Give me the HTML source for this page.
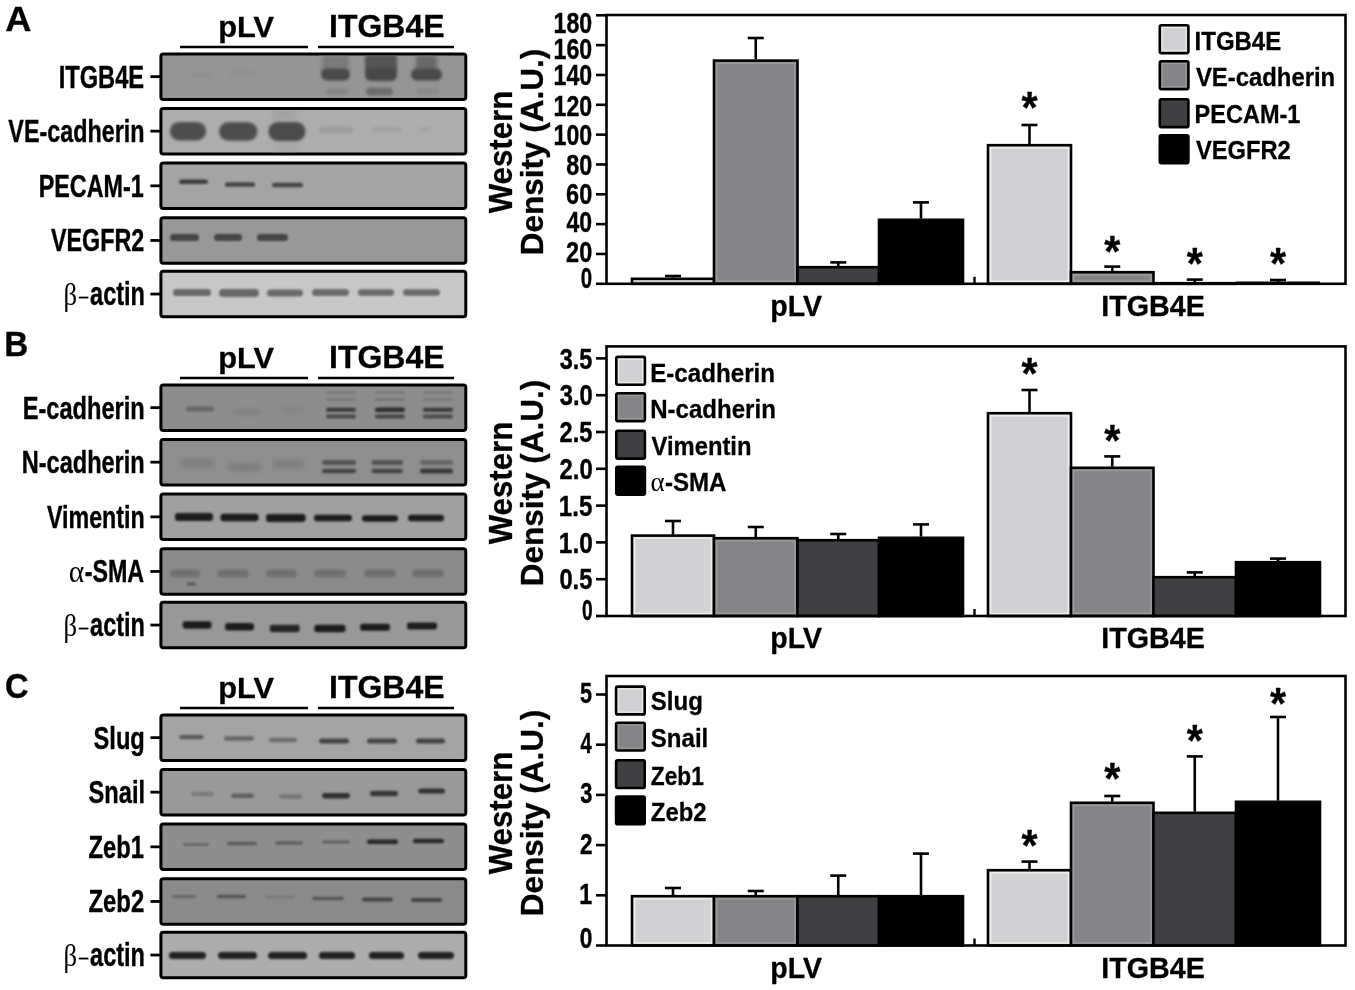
<!DOCTYPE html>
<html><head><meta charset="utf-8"><title>Western blot figure</title>
<style>html,body{margin:0;padding:0;background:#fff;} svg{display:block;}</style></head>
<body><svg width="1355" height="990" viewBox="0 0 1355 990">
<rect width="1355" height="990" fill="#fff"/>
<defs>
<filter id="b9" x="-30%" y="-200%" width="160%" height="500%"><feGaussianBlur stdDeviation="0.9"/></filter>
<filter id="b10" x="-30%" y="-200%" width="160%" height="500%"><feGaussianBlur stdDeviation="1.0"/></filter>
<filter id="b11" x="-30%" y="-200%" width="160%" height="500%"><feGaussianBlur stdDeviation="1.1"/></filter>
<filter id="b12" x="-30%" y="-200%" width="160%" height="500%"><feGaussianBlur stdDeviation="1.2"/></filter>
<filter id="b13" x="-30%" y="-200%" width="160%" height="500%"><feGaussianBlur stdDeviation="1.3"/></filter>
<filter id="b15" x="-30%" y="-200%" width="160%" height="500%"><feGaussianBlur stdDeviation="1.5"/></filter>
<filter id="b16" x="-30%" y="-200%" width="160%" height="500%"><feGaussianBlur stdDeviation="1.6"/></filter>
<filter id="b18" x="-30%" y="-200%" width="160%" height="500%"><feGaussianBlur stdDeviation="1.8"/></filter>
<filter id="b20" x="-30%" y="-200%" width="160%" height="500%"><feGaussianBlur stdDeviation="2.0"/></filter>
<filter id="b25" x="-30%" y="-200%" width="160%" height="500%"><feGaussianBlur stdDeviation="2.5"/></filter>
<filter id="b30" x="-30%" y="-200%" width="160%" height="500%"><feGaussianBlur stdDeviation="3.0"/></filter>
<clipPath id="clip00"><rect x="162.4" y="55.40" width="301.90" height="42.5"/></clipPath>
<clipPath id="clip01"><rect x="162.4" y="109.90" width="301.90" height="42.5"/></clipPath>
<clipPath id="clip02"><rect x="162.4" y="164.60" width="301.90" height="42.5"/></clipPath>
<clipPath id="clip03"><rect x="162.4" y="219.20" width="301.90" height="42.5"/></clipPath>
<clipPath id="clip04"><rect x="162.4" y="272.80" width="301.90" height="42.5"/></clipPath>
<clipPath id="clip10"><rect x="162.4" y="386.40" width="301.90" height="42.5"/></clipPath>
<clipPath id="clip11"><rect x="162.4" y="440.90" width="301.90" height="42.5"/></clipPath>
<clipPath id="clip12"><rect x="162.4" y="495.60" width="301.90" height="42.5"/></clipPath>
<clipPath id="clip13"><rect x="162.4" y="550.20" width="301.90" height="42.5"/></clipPath>
<clipPath id="clip14"><rect x="162.4" y="603.80" width="301.90" height="42.5"/></clipPath>
<clipPath id="clip20"><rect x="162.4" y="716.40" width="301.90" height="42.5"/></clipPath>
<clipPath id="clip21"><rect x="162.4" y="770.90" width="301.90" height="42.5"/></clipPath>
<clipPath id="clip22"><rect x="162.4" y="825.60" width="301.90" height="42.5"/></clipPath>
<clipPath id="clip23"><rect x="162.4" y="880.20" width="301.90" height="42.5"/></clipPath>
<clipPath id="clip24"><rect x="162.4" y="933.80" width="301.90" height="42.5"/></clipPath>
</defs>
<text transform="translate(5.24,30.80) scale(1.0537,1)" font-size="34.42" font-weight="bold" font-family="'Liberation Sans', Arial, sans-serif" stroke="#000" stroke-width="0.3" stroke-linejoin="round">A</text>
<text transform="translate(218.15,36.60) scale(1.0383,1)" font-size="29.64" font-weight="bold" font-family="'Liberation Sans', Arial, sans-serif" stroke="#000" stroke-width="0.3" stroke-linejoin="round">pLV</text>
<text transform="translate(329.07,37.00) scale(1.0250,1)" font-size="31.21" font-weight="bold" font-family="'Liberation Sans', Arial, sans-serif" stroke="#000" stroke-width="0.3" stroke-linejoin="round">ITGB4E</text>
<line x1="180" y1="47" x2="308" y2="47" stroke="#000" stroke-width="2.6"/>
<line x1="318" y1="47" x2="454" y2="47" stroke="#000" stroke-width="2.6"/>
<rect x="160.9" y="53.90" width="304.90" height="45.5" rx="2.5" fill="#959595" stroke="#000" stroke-width="3.0"/>
<g clip-path="url(#clip00)">
<rect x="191" y="72.5" width="24" height="5" rx="2.5" fill="#8a8a8a" opacity="0.6" filter="url(#b20)"/>
<rect x="229" y="70.5" width="26" height="5" rx="2.5" fill="#8a8a8a" opacity="0.6" filter="url(#b20)"/>
<rect x="322" y="55.0" width="27" height="18" rx="3" fill="#7a7a7a" opacity="1" filter="url(#b20)"/>
<rect x="321" y="68.5" width="29" height="12" rx="6.0" fill="#4a4a4a" opacity="1" filter="url(#b15)"/>
<rect x="365" y="55.0" width="32" height="18" rx="3" fill="#555555" opacity="1" filter="url(#b18)"/>
<rect x="365" y="68.0" width="32" height="13" rx="6" fill="#474747" opacity="1" filter="url(#b15)"/>
<rect x="416" y="55.0" width="21" height="18" rx="3" fill="#686868" opacity="1" filter="url(#b20)"/>
<rect x="411" y="68.5" width="31" height="12" rx="6.0" fill="#4a4a4a" opacity="1" filter="url(#b15)"/>
<rect x="326" y="88.0" width="23" height="7" rx="3.5" fill="#858585" opacity="1" filter="url(#b18)"/>
<rect x="366" y="87.75" width="27" height="7.5" rx="3.75" fill="#6a6a6a" opacity="1" filter="url(#b16)"/>
<rect x="416" y="88.0" width="23" height="7" rx="3.5" fill="#8a8a8a" opacity="1" filter="url(#b18)"/>
</g>
<line x1="150.4" y1="76.65" x2="160" y2="76.65" stroke="#000" stroke-width="2.8"/>
<text transform="translate(58.66,87.65) scale(0.7494,1)" font-size="31.59" font-weight="bold" font-family="'Liberation Sans', Arial, sans-serif" stroke="#000" stroke-width="0.4" stroke-linejoin="round">ITGB4E</text>
<rect x="160.9" y="108.40" width="304.90" height="45.5" rx="2.5" fill="#adadad" stroke="#000" stroke-width="3.0"/>
<g clip-path="url(#clip01)">
<rect x="273" y="108.0" width="24" height="12" rx="4" fill="#a2a2a2" opacity="1" filter="url(#b30)"/>
<rect x="273" y="143.0" width="24" height="8" rx="4" fill="#a6a6a6" opacity="1" filter="url(#b30)"/>
<rect x="170" y="121.94999999999999" width="36" height="18.5" rx="9" fill="#4e4e4e" opacity="1" filter="url(#b16)"/>
<rect x="219" y="122.25" width="38.39999999999998" height="18.5" rx="9" fill="#4e4e4e" opacity="1" filter="url(#b16)"/>
<rect x="268.5" y="122.0" width="37.0" height="19" rx="9" fill="#4c4c4c" opacity="1" filter="url(#b16)"/>
<rect x="319" y="126.5" width="34.5" height="6" rx="3.0" fill="#9c9c9c" opacity="1" filter="url(#b18)"/>
<rect x="371.5" y="127.0" width="30.0" height="5" rx="2.5" fill="#a0a0a0" opacity="1" filter="url(#b18)"/>
<rect x="419" y="127.0" width="12" height="5" rx="2.5" fill="#a3a3a3" opacity="1" filter="url(#b18)"/>
</g>
<line x1="150.4" y1="131.15" x2="160" y2="131.15" stroke="#000" stroke-width="2.8"/>
<text transform="translate(8.37,142.15) scale(0.7395,1)" font-size="31.59" font-weight="bold" font-family="'Liberation Sans', Arial, sans-serif" stroke="#000" stroke-width="0.4" stroke-linejoin="round">VE-cadherin</text>
<rect x="160.9" y="163.10" width="304.90" height="45.5" rx="2.5" fill="#a4a4a4" stroke="#000" stroke-width="3.0"/>
<g clip-path="url(#clip02)">
<rect x="179" y="179.45" width="29" height="4.5" rx="2.25" fill="#3e3e3e" opacity="1" filter="url(#b10)"/>
<rect x="225" y="182.15" width="30" height="4.5" rx="2.25" fill="#444" opacity="1" filter="url(#b10)"/>
<rect x="272" y="182.75" width="31" height="4.5" rx="2.25" fill="#444" opacity="1" filter="url(#b10)"/>
</g>
<line x1="150.4" y1="185.85" x2="160" y2="185.85" stroke="#000" stroke-width="2.8"/>
<text transform="translate(38.68,196.85) scale(0.7400,1)" font-size="31.59" font-weight="bold" font-family="'Liberation Sans', Arial, sans-serif" stroke="#000" stroke-width="0.4" stroke-linejoin="round">PECAM-1</text>
<rect x="160.9" y="217.70" width="304.90" height="45.5" rx="2.5" fill="#989898" stroke="#000" stroke-width="3.0"/>
<g clip-path="url(#clip03)">
<rect x="170" y="234.0" width="29" height="7" rx="3.5" fill="#444" opacity="1.0" filter="url(#b10)"/>
<rect x="214" y="234.0" width="28" height="7" rx="3.5" fill="#444" opacity="1.0" filter="url(#b10)"/>
<rect x="257" y="234.0" width="31" height="7" rx="3.5" fill="#444" opacity="1.0" filter="url(#b10)"/>
</g>
<line x1="150.4" y1="240.45" x2="160" y2="240.45" stroke="#000" stroke-width="2.8"/>
<text transform="translate(50.97,251.45) scale(0.7380,1)" font-size="31.59" font-weight="bold" font-family="'Liberation Sans', Arial, sans-serif" stroke="#000" stroke-width="0.4" stroke-linejoin="round">VEGFR2</text>
<rect x="160.9" y="271.30" width="304.90" height="45.5" rx="2.5" fill="#c7c7c7" stroke="#000" stroke-width="3.0"/>
<g clip-path="url(#clip04)">
<rect x="173" y="289.0" width="38" height="7" rx="3.5" fill="#686868" opacity="1" filter="url(#b11)"/>
<rect x="219" y="289.0" width="40" height="8" rx="4" fill="#666666" opacity="1" filter="url(#b11)"/>
<rect x="267" y="289.5" width="36" height="7" rx="3.5" fill="#6a6a6a" opacity="1" filter="url(#b11)"/>
<rect x="312" y="289.0" width="37" height="7" rx="3.5" fill="#6a6a6a" opacity="1" filter="url(#b11)"/>
<rect x="358" y="289.25" width="36" height="6.5" rx="3.2" fill="#6a6a6a" opacity="1" filter="url(#b11)"/>
<rect x="403" y="289.25" width="37" height="6.5" rx="3.2" fill="#6a6a6a" opacity="1" filter="url(#b11)"/>
</g>
<line x1="150.4" y1="294.05" x2="160" y2="294.05" stroke="#000" stroke-width="2.8"/>
<text transform="translate(63.46,305.05) scale(0.8770,1)" font-size="30.50" font-weight="normal" font-family="'Liberation Serif', 'Times New Roman', serif">β</text>
<line x1="78.8" y1="297.55" x2="88.4" y2="297.55" stroke="#000" stroke-width="1.8"/>
<text transform="translate(90.09,305.05) scale(0.7066,1)" font-size="33.28" font-weight="bold" font-family="'Liberation Sans', Arial, sans-serif" stroke="#000" stroke-width="0.4" stroke-linejoin="round">actin</text>
<text transform="translate(511.80,213.35) rotate(-90) scale(0.9556,1)" font-size="32.68" font-weight="bold" font-family="'Liberation Sans', Arial, sans-serif" stroke="#000" stroke-width="0.3" stroke-linejoin="round">Western</text>
<text transform="translate(543.00,255.30) rotate(-90) scale(0.9951,1)" font-size="31.67" font-weight="bold" font-family="'Liberation Sans', Arial, sans-serif" stroke="#000" stroke-width="0.3" stroke-linejoin="round">Density (A.U.)</text>
<line x1="673.0" y1="276" x2="673.0" y2="277.6" stroke="#000" stroke-width="2.6"/>
<line x1="665.0" y1="276" x2="681.0" y2="276" stroke="#000" stroke-width="2.6"/>
<rect x="632" y="278.8" width="82" height="5.00" fill="#d1d1d3" stroke="#000" stroke-width="2.6"/>
<line x1="755.75" y1="38" x2="755.75" y2="59.4" stroke="#000" stroke-width="2.6"/>
<line x1="747.75" y1="38" x2="763.75" y2="38" stroke="#000" stroke-width="2.6"/>
<rect x="714" y="60.6" width="83.5" height="223.20" fill="#858588" stroke="#000" stroke-width="2.6"/>
<rect x="716.6" y="63.199999999999996" width="78.3" height="218.00" fill="none" stroke="#a2a2a4" stroke-width="1.6" opacity="0.75"/>
<line x1="838.25" y1="262.4" x2="838.25" y2="266" stroke="#000" stroke-width="2.6"/>
<line x1="830.25" y1="262.4" x2="846.25" y2="262.4" stroke="#000" stroke-width="2.6"/>
<rect x="797.5" y="267.2" width="81.5" height="16.60" fill="#404042" stroke="#000" stroke-width="2.6"/>
<line x1="921.0" y1="202.4" x2="921.0" y2="218.6" stroke="#000" stroke-width="2.6"/>
<line x1="913.0" y1="202.4" x2="929.0" y2="202.4" stroke="#000" stroke-width="2.6"/>
<rect x="879" y="219.79999999999998" width="84" height="64.00" fill="#000000" stroke="#000" stroke-width="2.6"/>
<line x1="1029.5" y1="125" x2="1029.5" y2="144" stroke="#000" stroke-width="2.6"/>
<line x1="1021.5" y1="125" x2="1037.5" y2="125" stroke="#000" stroke-width="2.6"/>
<rect x="988" y="145.2" width="83" height="138.60" fill="#d1d1d3" stroke="#000" stroke-width="2.6"/>
<rect x="990.6" y="147.8" width="77.8" height="133.40" fill="none" stroke="#f4f4f4" stroke-width="1.6" opacity="0.75"/>
<text transform="translate(1021.44,123.08) scale(0.9390,1)" font-size="44.00" font-weight="bold" font-family="'Liberation Sans', Arial, sans-serif" stroke="#000" stroke-width="0.3" stroke-linejoin="round">*</text>
<line x1="1112.25" y1="266.6" x2="1112.25" y2="271" stroke="#000" stroke-width="2.6"/>
<line x1="1104.25" y1="266.6" x2="1120.25" y2="266.6" stroke="#000" stroke-width="2.6"/>
<rect x="1071" y="272.2" width="82.5" height="11.60" fill="#858588" stroke="#000" stroke-width="2.6"/>
<rect x="1073.6" y="274.8" width="77.3" height="6.40" fill="none" stroke="#a2a2a4" stroke-width="1.6" opacity="0.75"/>
<text transform="translate(1104.19,267.08) scale(0.9390,1)" font-size="44.00" font-weight="bold" font-family="'Liberation Sans', Arial, sans-serif" stroke="#000" stroke-width="0.3" stroke-linejoin="round">*</text>
<line x1="1194.75" y1="279.6" x2="1194.75" y2="282" stroke="#000" stroke-width="2.6"/>
<line x1="1186.75" y1="279.6" x2="1202.75" y2="279.6" stroke="#000" stroke-width="2.6"/>
<rect x="1153.5" y="283.2" width="82.5" height="0.60" fill="#404042" stroke="#000" stroke-width="2.6"/>
<text transform="translate(1186.69,278.58) scale(0.9390,1)" font-size="44.00" font-weight="bold" font-family="'Liberation Sans', Arial, sans-serif" stroke="#000" stroke-width="0.3" stroke-linejoin="round">*</text>
<line x1="1278.0" y1="280" x2="1278.0" y2="282.5" stroke="#000" stroke-width="2.6"/>
<line x1="1270.0" y1="280" x2="1286.0" y2="280" stroke="#000" stroke-width="2.6"/>
<line x1="1236" y1="282.8" x2="1320" y2="282.8" stroke="#000" stroke-width="2.5"/>
<text transform="translate(1269.94,278.58) scale(0.9390,1)" font-size="44.00" font-weight="bold" font-family="'Liberation Sans', Arial, sans-serif" stroke="#000" stroke-width="0.3" stroke-linejoin="round">*</text>
<rect x="606.5" y="15" width="739.0" height="268.80" fill="none" stroke="#000" stroke-width="2.6"/>
<line x1="974.5" y1="276.8" x2="974.5" y2="283.8" stroke="#000" stroke-width="2.4"/>
<line x1="596" y1="283.80" x2="606.5" y2="283.80" stroke="#000" stroke-width="2.6"/>
<text transform="translate(580.68,287.65) scale(0.6775,1)" font-size="30.14" font-weight="bold" font-family="'Liberation Sans', Arial, sans-serif" stroke="#000" stroke-width="0.4" stroke-linejoin="round">0</text>
<line x1="596" y1="253.97" x2="606.5" y2="253.97" stroke="#000" stroke-width="2.6"/>
<text transform="translate(566.08,261.65) scale(0.7789,1)" font-size="30.14" font-weight="bold" font-family="'Liberation Sans', Arial, sans-serif" stroke="#000" stroke-width="0.4" stroke-linejoin="round">20</text>
<line x1="596" y1="224.13" x2="606.5" y2="224.13" stroke="#000" stroke-width="2.6"/>
<text transform="translate(566.55,232.25) scale(0.7641,1)" font-size="30.14" font-weight="bold" font-family="'Liberation Sans', Arial, sans-serif" stroke="#000" stroke-width="0.4" stroke-linejoin="round">40</text>
<line x1="596" y1="194.30" x2="606.5" y2="194.30" stroke="#000" stroke-width="2.6"/>
<text transform="translate(566.08,204.15) scale(0.7789,1)" font-size="30.14" font-weight="bold" font-family="'Liberation Sans', Arial, sans-serif" stroke="#000" stroke-width="0.4" stroke-linejoin="round">60</text>
<line x1="596" y1="164.46" x2="606.5" y2="164.46" stroke="#000" stroke-width="2.6"/>
<text transform="translate(566.20,175.15) scale(0.7752,1)" font-size="30.14" font-weight="bold" font-family="'Liberation Sans', Arial, sans-serif" stroke="#000" stroke-width="0.4" stroke-linejoin="round">80</text>
<line x1="596" y1="134.63" x2="606.5" y2="134.63" stroke="#000" stroke-width="2.6"/>
<text transform="translate(553.60,144.65) scale(0.7677,1)" font-size="30.14" font-weight="bold" font-family="'Liberation Sans', Arial, sans-serif" stroke="#000" stroke-width="0.4" stroke-linejoin="round">100</text>
<line x1="596" y1="104.80" x2="606.5" y2="104.80" stroke="#000" stroke-width="2.6"/>
<text transform="translate(553.60,115.65) scale(0.7677,1)" font-size="30.14" font-weight="bold" font-family="'Liberation Sans', Arial, sans-serif" stroke="#000" stroke-width="0.4" stroke-linejoin="round">120</text>
<line x1="596" y1="74.96" x2="606.5" y2="74.96" stroke="#000" stroke-width="2.6"/>
<text transform="translate(553.60,85.35) scale(0.7677,1)" font-size="30.14" font-weight="bold" font-family="'Liberation Sans', Arial, sans-serif" stroke="#000" stroke-width="0.4" stroke-linejoin="round">140</text>
<line x1="596" y1="45.13" x2="606.5" y2="45.13" stroke="#000" stroke-width="2.6"/>
<text transform="translate(553.60,58.75) scale(0.7677,1)" font-size="30.14" font-weight="bold" font-family="'Liberation Sans', Arial, sans-serif" stroke="#000" stroke-width="0.4" stroke-linejoin="round">160</text>
<line x1="596" y1="15.29" x2="606.5" y2="15.29" stroke="#000" stroke-width="2.6"/>
<text transform="translate(553.60,33.25) scale(0.7677,1)" font-size="30.14" font-weight="bold" font-family="'Liberation Sans', Arial, sans-serif" stroke="#000" stroke-width="0.4" stroke-linejoin="round">180</text>
<rect x="1159.8" y="25.3" width="28.6" height="27.8" rx="1.5" fill="#d1d1d3" stroke="#000" stroke-width="2.6"/>
<rect x="1162.1" y="27.6" width="24" height="23.2" fill="none" stroke="#f4f4f4" stroke-width="1.1" opacity="0.8"/>
<text transform="translate(1194.59,49.70) scale(0.9159,1)" font-size="26.16" font-weight="bold" font-family="'Liberation Sans', Arial, sans-serif" stroke="#000" stroke-width="0.3" stroke-linejoin="round">ITGB4E</text>
<rect x="1159.8" y="61.3" width="28.6" height="27.8" rx="1.5" fill="#858588" stroke="#000" stroke-width="2.6"/>
<rect x="1162.1" y="63.6" width="24" height="23.2" fill="none" stroke="#a2a2a4" stroke-width="1.1" opacity="0.8"/>
<text transform="translate(1195.91,86.00) scale(0.9131,1)" font-size="26.16" font-weight="bold" font-family="'Liberation Sans', Arial, sans-serif" stroke="#000" stroke-width="0.3" stroke-linejoin="round">VE-cadherin</text>
<rect x="1159.8" y="99.3" width="28.6" height="27.8" rx="1.5" fill="#404042" stroke="#000" stroke-width="2.6"/>
<text transform="translate(1194.62,123.00) scale(0.8989,1)" font-size="26.16" font-weight="bold" font-family="'Liberation Sans', Arial, sans-serif" stroke="#000" stroke-width="0.3" stroke-linejoin="round">PECAM-1</text>
<rect x="1159.8" y="135.3" width="28.6" height="27.8" rx="1.5" fill="#000000" stroke="#000" stroke-width="2.6"/>
<text transform="translate(1195.91,159.00) scale(0.9068,1)" font-size="26.16" font-weight="bold" font-family="'Liberation Sans', Arial, sans-serif" stroke="#000" stroke-width="0.3" stroke-linejoin="round">VEGFR2</text>
<text transform="translate(770.30,316.00) scale(0.9425,1)" font-size="30.22" font-weight="bold" font-family="'Liberation Sans', Arial, sans-serif" stroke="#000" stroke-width="0.3" stroke-linejoin="round">pLV</text>
<text transform="translate(1101.29,316.00) scale(0.9728,1)" font-size="29.49" font-weight="bold" font-family="'Liberation Sans', Arial, sans-serif" stroke="#000" stroke-width="0.3" stroke-linejoin="round">ITGB4E</text>
<text transform="translate(4.19,355.80) scale(0.9392,1)" font-size="35.43" font-weight="bold" font-family="'Liberation Sans', Arial, sans-serif" stroke="#000" stroke-width="0.3" stroke-linejoin="round">B</text>
<text transform="translate(218.15,367.60) scale(1.0383,1)" font-size="29.64" font-weight="bold" font-family="'Liberation Sans', Arial, sans-serif" stroke="#000" stroke-width="0.3" stroke-linejoin="round">pLV</text>
<text transform="translate(329.07,368.00) scale(1.0250,1)" font-size="31.21" font-weight="bold" font-family="'Liberation Sans', Arial, sans-serif" stroke="#000" stroke-width="0.3" stroke-linejoin="round">ITGB4E</text>
<line x1="180" y1="378" x2="308" y2="378" stroke="#000" stroke-width="2.6"/>
<line x1="318" y1="378" x2="454" y2="378" stroke="#000" stroke-width="2.6"/>
<rect x="160.9" y="384.90" width="304.90" height="45.5" rx="2.5" fill="#8d8d8d" stroke="#000" stroke-width="3.0"/>
<g clip-path="url(#clip10)">
<rect x="186" y="406.5" width="28" height="5" rx="2.5" fill="#666666" opacity="1" filter="url(#b13)"/>
<rect x="233" y="409.0" width="28" height="6" rx="3.0" fill="#7e7e7e" opacity="0.8" filter="url(#b20)"/>
<rect x="281" y="407.5" width="23" height="5" rx="2.5" fill="#808080" opacity="0.7" filter="url(#b20)"/>
<rect x="326" y="391.0" width="30" height="3" rx="1.5" fill="#7a7a7a" opacity="1" filter="url(#b12)"/>
<rect x="375" y="391.0" width="30" height="3" rx="1.5" fill="#7a7a7a" opacity="1" filter="url(#b12)"/>
<rect x="423" y="391.0" width="30" height="3" rx="1.5" fill="#7a7a7a" opacity="1" filter="url(#b12)"/>
<rect x="326" y="398.0" width="30" height="3" rx="1.5" fill="#7a7a7a" opacity="1" filter="url(#b12)"/>
<rect x="375" y="398.0" width="30" height="3" rx="1.5" fill="#777777" opacity="1" filter="url(#b12)"/>
<rect x="423" y="398.0" width="30" height="3" rx="1.5" fill="#7a7a7a" opacity="1" filter="url(#b12)"/>
<rect x="326" y="407.7" width="30" height="4" rx="2.0" fill="#383838" opacity="1" filter="url(#b10)"/>
<rect x="375" y="407.45" width="30" height="4.5" rx="2.25" fill="#2e2e2e" opacity="1" filter="url(#b10)"/>
<rect x="423" y="407.7" width="30" height="4" rx="2.0" fill="#3a3a3a" opacity="1" filter="url(#b10)"/>
<rect x="326" y="414.6" width="30" height="4" rx="2.0" fill="#484848" opacity="1" filter="url(#b10)"/>
<rect x="375" y="414.6" width="30" height="4" rx="2.0" fill="#444" opacity="1" filter="url(#b10)"/>
<rect x="423" y="414.6" width="30" height="4" rx="2.0" fill="#4a4a4a" opacity="1" filter="url(#b10)"/>
</g>
<line x1="150.4" y1="407.65" x2="160" y2="407.65" stroke="#000" stroke-width="2.8"/>
<text transform="translate(22.66,418.65) scale(0.7480,1)" font-size="31.59" font-weight="bold" font-family="'Liberation Sans', Arial, sans-serif" stroke="#000" stroke-width="0.4" stroke-linejoin="round">E-cadherin</text>
<rect x="160.9" y="439.40" width="304.90" height="45.5" rx="2.5" fill="#8f8f8f" stroke="#000" stroke-width="3.0"/>
<g clip-path="url(#clip11)">
<rect x="181" y="459.0" width="33" height="8" rx="4.0" fill="#7a7a7a" opacity="0.9" filter="url(#b25)"/>
<rect x="229" y="463.0" width="32" height="8" rx="4.0" fill="#7a7a7a" opacity="0.9" filter="url(#b25)"/>
<rect x="273" y="460.0" width="31" height="8" rx="4.0" fill="#7a7a7a" opacity="0.9" filter="url(#b25)"/>
<rect x="322" y="459.9" width="34" height="5" rx="2.5" fill="#555" opacity="1" filter="url(#b12)"/>
<rect x="371.5" y="459.9" width="31.5" height="5" rx="2.5" fill="#555" opacity="1" filter="url(#b12)"/>
<rect x="420" y="459.9" width="33" height="5" rx="2.5" fill="#666" opacity="1" filter="url(#b12)"/>
<rect x="322" y="468.75" width="34" height="4.5" rx="2.25" fill="#444" opacity="1" filter="url(#b11)"/>
<rect x="371.5" y="468.75" width="31.5" height="4.5" rx="2.25" fill="#444" opacity="1" filter="url(#b11)"/>
<rect x="420" y="468.5" width="33" height="5" rx="2.5" fill="#3a3a3a" opacity="1" filter="url(#b11)"/>
</g>
<line x1="150.4" y1="462.15" x2="160" y2="462.15" stroke="#000" stroke-width="2.8"/>
<text transform="translate(21.67,473.15) scale(0.7461,1)" font-size="31.59" font-weight="bold" font-family="'Liberation Sans', Arial, sans-serif" stroke="#000" stroke-width="0.4" stroke-linejoin="round">N-cadherin</text>
<rect x="160.9" y="494.10" width="304.90" height="45.5" rx="2.5" fill="#a0a0a0" stroke="#000" stroke-width="3.0"/>
<g clip-path="url(#clip12)">
<rect x="175" y="513.0" width="38" height="8" rx="3" fill="#1c1c1c" opacity="1" filter="url(#b10)"/>
<rect x="220.5" y="513.75" width="38.0" height="7.5" rx="3" fill="#1c1c1c" opacity="1" filter="url(#b10)"/>
<rect x="266" y="514.0" width="39.5" height="8" rx="3" fill="#1a1a1a" opacity="1" filter="url(#b10)"/>
<rect x="314" y="514.75" width="38" height="6.5" rx="3" fill="#1e1e1e" opacity="1" filter="url(#b10)"/>
<rect x="362" y="515.25" width="36" height="6.5" rx="3" fill="#1e1e1e" opacity="1" filter="url(#b10)"/>
<rect x="408" y="514.75" width="36" height="6.5" rx="3" fill="#1e1e1e" opacity="1" filter="url(#b10)"/>
</g>
<line x1="150.4" y1="516.85" x2="160" y2="516.85" stroke="#000" stroke-width="2.8"/>
<text transform="translate(46.97,527.85) scale(0.7356,1)" font-size="31.59" font-weight="bold" font-family="'Liberation Sans', Arial, sans-serif" stroke="#000" stroke-width="0.4" stroke-linejoin="round">Vimentin</text>
<rect x="160.9" y="548.70" width="304.90" height="45.5" rx="2.5" fill="#8b8b8b" stroke="#000" stroke-width="3.0"/>
<g clip-path="url(#clip13)">
<rect x="170" y="569.75" width="30" height="7.5" rx="3.75" fill="#6e6e6e" opacity="1.0" filter="url(#b15)"/>
<rect x="217" y="569.75" width="32" height="7.5" rx="3.75" fill="#6e6e6e" opacity="1.0" filter="url(#b15)"/>
<rect x="266" y="569.75" width="31" height="7.5" rx="3.75" fill="#6e6e6e" opacity="1.0" filter="url(#b15)"/>
<rect x="314" y="569.75" width="32" height="7.5" rx="3.75" fill="#6e6e6e" opacity="1.0" filter="url(#b15)"/>
<rect x="364" y="569.75" width="32" height="7.5" rx="3.75" fill="#6e6e6e" opacity="1.0" filter="url(#b15)"/>
<rect x="412" y="569.75" width="32" height="7.5" rx="3.75" fill="#6e6e6e" opacity="1.0" filter="url(#b15)"/>
<rect x="187" y="582.5" width="9" height="3" rx="1.5" fill="#555555" opacity="1" filter="url(#b12)"/>
</g>
<line x1="150.4" y1="571.45" x2="160" y2="571.45" stroke="#000" stroke-width="2.8"/>
<text transform="translate(68.82,582.45) scale(0.9264,1)" font-size="31.91" font-weight="normal" font-family="'Liberation Serif', 'Times New Roman', serif">α</text>
<text transform="translate(84.77,582.45) scale(0.7299,1)" font-size="31.86" font-weight="bold" font-family="'Liberation Sans', Arial, sans-serif" stroke="#000" stroke-width="0.4" stroke-linejoin="round">-SMA</text>
<rect x="160.9" y="602.30" width="304.90" height="45.5" rx="2.5" fill="#989898" stroke="#000" stroke-width="3.0"/>
<g clip-path="url(#clip14)">
<rect x="182.7" y="621.25" width="28.900000000000006" height="7.5" rx="3" fill="#1e1e1e" opacity="1" filter="url(#b10)"/>
<rect x="225" y="623.05" width="29" height="7.5" rx="3" fill="#1e1e1e" opacity="1" filter="url(#b10)"/>
<rect x="269.7" y="624.65" width="30.0" height="7.5" rx="3" fill="#262626" opacity="1" filter="url(#b10)"/>
<rect x="314.3" y="624.65" width="31.19999999999999" height="7.5" rx="3" fill="#1e1e1e" opacity="1" filter="url(#b10)"/>
<rect x="360" y="623.8" width="30" height="7" rx="3" fill="#1e1e1e" opacity="1" filter="url(#b10)"/>
<rect x="407" y="622.5" width="30" height="7" rx="3" fill="#1e1e1e" opacity="1" filter="url(#b10)"/>
</g>
<line x1="150.4" y1="625.05" x2="160" y2="625.05" stroke="#000" stroke-width="2.8"/>
<text transform="translate(63.46,636.05) scale(0.8770,1)" font-size="30.50" font-weight="normal" font-family="'Liberation Serif', 'Times New Roman', serif">β</text>
<line x1="78.8" y1="628.55" x2="88.4" y2="628.55" stroke="#000" stroke-width="1.8"/>
<text transform="translate(90.09,636.05) scale(0.7066,1)" font-size="33.28" font-weight="bold" font-family="'Liberation Sans', Arial, sans-serif" stroke="#000" stroke-width="0.4" stroke-linejoin="round">actin</text>
<text transform="translate(511.80,544.35) rotate(-90) scale(0.9556,1)" font-size="32.68" font-weight="bold" font-family="'Liberation Sans', Arial, sans-serif" stroke="#000" stroke-width="0.3" stroke-linejoin="round">Western</text>
<text transform="translate(543.00,586.30) rotate(-90) scale(0.9951,1)" font-size="31.67" font-weight="bold" font-family="'Liberation Sans', Arial, sans-serif" stroke="#000" stroke-width="0.3" stroke-linejoin="round">Density (A.U.)</text>
<line x1="673.0" y1="521" x2="673.0" y2="534.4" stroke="#000" stroke-width="2.6"/>
<line x1="665.0" y1="521" x2="681.0" y2="521" stroke="#000" stroke-width="2.6"/>
<rect x="632" y="535.6" width="82" height="80.40" fill="#d1d1d3" stroke="#000" stroke-width="2.6"/>
<rect x="634.6" y="538.1999999999999" width="76.8" height="75.20" fill="none" stroke="#f4f4f4" stroke-width="1.6" opacity="0.75"/>
<line x1="755.75" y1="527" x2="755.75" y2="537" stroke="#000" stroke-width="2.6"/>
<line x1="747.75" y1="527" x2="763.75" y2="527" stroke="#000" stroke-width="2.6"/>
<rect x="714" y="538.2" width="83.5" height="77.80" fill="#858588" stroke="#000" stroke-width="2.6"/>
<rect x="716.6" y="540.8" width="78.3" height="72.60" fill="none" stroke="#a2a2a4" stroke-width="1.6" opacity="0.75"/>
<line x1="838.25" y1="534" x2="838.25" y2="539" stroke="#000" stroke-width="2.6"/>
<line x1="830.25" y1="534" x2="846.25" y2="534" stroke="#000" stroke-width="2.6"/>
<rect x="797.5" y="540.2" width="81.5" height="75.80" fill="#404042" stroke="#000" stroke-width="2.6"/>
<line x1="921.0" y1="524.4" x2="921.0" y2="536.6" stroke="#000" stroke-width="2.6"/>
<line x1="913.0" y1="524.4" x2="929.0" y2="524.4" stroke="#000" stroke-width="2.6"/>
<rect x="879" y="537.8000000000001" width="84" height="78.20" fill="#000000" stroke="#000" stroke-width="2.6"/>
<line x1="1029.5" y1="390" x2="1029.5" y2="412" stroke="#000" stroke-width="2.6"/>
<line x1="1021.5" y1="390" x2="1037.5" y2="390" stroke="#000" stroke-width="2.6"/>
<rect x="988" y="413.2" width="83" height="202.80" fill="#d1d1d3" stroke="#000" stroke-width="2.6"/>
<rect x="990.6" y="415.8" width="77.8" height="197.60" fill="none" stroke="#f4f4f4" stroke-width="1.6" opacity="0.75"/>
<text transform="translate(1021.44,388.58) scale(0.9390,1)" font-size="44.00" font-weight="bold" font-family="'Liberation Sans', Arial, sans-serif" stroke="#000" stroke-width="0.3" stroke-linejoin="round">*</text>
<line x1="1112.25" y1="456.4" x2="1112.25" y2="466.6" stroke="#000" stroke-width="2.6"/>
<line x1="1104.25" y1="456.4" x2="1120.25" y2="456.4" stroke="#000" stroke-width="2.6"/>
<rect x="1071" y="467.8" width="82.5" height="148.20" fill="#858588" stroke="#000" stroke-width="2.6"/>
<rect x="1073.6" y="470.40000000000003" width="77.3" height="143.00" fill="none" stroke="#a2a2a4" stroke-width="1.6" opacity="0.75"/>
<text transform="translate(1104.19,455.58) scale(0.9390,1)" font-size="44.00" font-weight="bold" font-family="'Liberation Sans', Arial, sans-serif" stroke="#000" stroke-width="0.3" stroke-linejoin="round">*</text>
<line x1="1194.75" y1="572.4" x2="1194.75" y2="576" stroke="#000" stroke-width="2.6"/>
<line x1="1186.75" y1="572.4" x2="1202.75" y2="572.4" stroke="#000" stroke-width="2.6"/>
<rect x="1153.5" y="577.2" width="82.5" height="38.80" fill="#404042" stroke="#000" stroke-width="2.6"/>
<line x1="1278.0" y1="558.6" x2="1278.0" y2="561" stroke="#000" stroke-width="2.6"/>
<line x1="1270.0" y1="558.6" x2="1286.0" y2="558.6" stroke="#000" stroke-width="2.6"/>
<rect x="1236" y="562.2" width="84" height="53.80" fill="#000000" stroke="#000" stroke-width="2.6"/>
<rect x="606.5" y="346.4" width="739.0" height="269.60" fill="none" stroke="#000" stroke-width="2.6"/>
<line x1="974.5" y1="609" x2="974.5" y2="616" stroke="#000" stroke-width="2.4"/>
<line x1="596" y1="616.00" x2="606.5" y2="616.00" stroke="#000" stroke-width="2.6"/>
<text transform="translate(581.93,619.75) scale(0.6606,1)" font-size="29.00" font-weight="bold" font-family="'Liberation Sans', Arial, sans-serif" stroke="#000" stroke-width="0.4" stroke-linejoin="round">0</text>
<line x1="596" y1="579.20" x2="606.5" y2="579.20" stroke="#000" stroke-width="2.6"/>
<text transform="translate(559.45,589.45) scale(0.8172,1)" font-size="29.00" font-weight="bold" font-family="'Liberation Sans', Arial, sans-serif" stroke="#000" stroke-width="0.4" stroke-linejoin="round">0.5</text>
<line x1="596" y1="542.40" x2="606.5" y2="542.40" stroke="#000" stroke-width="2.6"/>
<text transform="translate(558.81,552.65) scale(0.8426,1)" font-size="29.00" font-weight="bold" font-family="'Liberation Sans', Arial, sans-serif" stroke="#000" stroke-width="0.4" stroke-linejoin="round">1.0</text>
<line x1="596" y1="505.60" x2="606.5" y2="505.60" stroke="#000" stroke-width="2.6"/>
<text transform="translate(558.83,515.85) scale(0.8329,1)" font-size="29.00" font-weight="bold" font-family="'Liberation Sans', Arial, sans-serif" stroke="#000" stroke-width="0.4" stroke-linejoin="round">1.5</text>
<line x1="596" y1="468.80" x2="606.5" y2="468.80" stroke="#000" stroke-width="2.6"/>
<text transform="translate(559.56,479.05) scale(0.8234,1)" font-size="29.00" font-weight="bold" font-family="'Liberation Sans', Arial, sans-serif" stroke="#000" stroke-width="0.4" stroke-linejoin="round">2.0</text>
<line x1="596" y1="432.00" x2="606.5" y2="432.00" stroke="#000" stroke-width="2.6"/>
<text transform="translate(559.57,442.25) scale(0.8141,1)" font-size="29.00" font-weight="bold" font-family="'Liberation Sans', Arial, sans-serif" stroke="#000" stroke-width="0.4" stroke-linejoin="round">2.5</text>
<line x1="596" y1="395.20" x2="606.5" y2="395.20" stroke="#000" stroke-width="2.6"/>
<text transform="translate(559.81,405.45) scale(0.8172,1)" font-size="29.00" font-weight="bold" font-family="'Liberation Sans', Arial, sans-serif" stroke="#000" stroke-width="0.4" stroke-linejoin="round">3.0</text>
<line x1="596" y1="358.40" x2="606.5" y2="358.40" stroke="#000" stroke-width="2.6"/>
<text transform="translate(559.81,368.65) scale(0.8080,1)" font-size="29.00" font-weight="bold" font-family="'Liberation Sans', Arial, sans-serif" stroke="#000" stroke-width="0.4" stroke-linejoin="round">3.5</text>
<rect x="616.3" y="356.90000000000003" width="28.6" height="27.8" rx="1.5" fill="#d1d1d3" stroke="#000" stroke-width="2.6"/>
<rect x="618.6" y="359.20000000000005" width="24" height="23.2" fill="none" stroke="#f4f4f4" stroke-width="1.1" opacity="0.8"/>
<text transform="translate(650.18,381.80) scale(0.9238,1)" font-size="26.16" font-weight="bold" font-family="'Liberation Sans', Arial, sans-serif" stroke="#000" stroke-width="0.3" stroke-linejoin="round">E-cadherin</text>
<rect x="616.3" y="393.3" width="28.6" height="27.8" rx="1.5" fill="#858588" stroke="#000" stroke-width="2.6"/>
<rect x="618.6" y="395.6" width="24" height="23.2" fill="none" stroke="#a2a2a4" stroke-width="1.1" opacity="0.8"/>
<text transform="translate(650.19,417.80) scale(0.9199,1)" font-size="26.16" font-weight="bold" font-family="'Liberation Sans', Arial, sans-serif" stroke="#000" stroke-width="0.3" stroke-linejoin="round">N-cadherin</text>
<rect x="616.3" y="430.8" width="28.6" height="27.8" rx="1.5" fill="#404042" stroke="#000" stroke-width="2.6"/>
<text transform="translate(651.51,455.30) scale(0.9088,1)" font-size="26.16" font-weight="bold" font-family="'Liberation Sans', Arial, sans-serif" stroke="#000" stroke-width="0.3" stroke-linejoin="round">Vimentin</text>
<rect x="616.3" y="466.8" width="28.6" height="27.8" rx="1.5" fill="#000000" stroke="#000" stroke-width="2.6"/>
<text transform="translate(650.52,491.30) scale(0.9746,1)" font-size="27.66" font-weight="normal" font-family="'Liberation Serif', 'Times New Roman', serif">α</text>
<text transform="translate(664.89,491.30) scale(0.9044,1)" font-size="26.64" font-weight="bold" font-family="'Liberation Sans', Arial, sans-serif" stroke="#000" stroke-width="0.3" stroke-linejoin="round">-SMA</text>
<text transform="translate(770.30,648.20) scale(0.9425,1)" font-size="30.22" font-weight="bold" font-family="'Liberation Sans', Arial, sans-serif" stroke="#000" stroke-width="0.3" stroke-linejoin="round">pLV</text>
<text transform="translate(1101.29,648.20) scale(0.9728,1)" font-size="29.49" font-weight="bold" font-family="'Liberation Sans', Arial, sans-serif" stroke="#000" stroke-width="0.3" stroke-linejoin="round">ITGB4E</text>
<text transform="translate(5.04,697.80) scale(0.9166,1)" font-size="35.64" font-weight="bold" font-family="'Liberation Sans', Arial, sans-serif" stroke="#000" stroke-width="0.3" stroke-linejoin="round">C</text>
<text transform="translate(218.15,697.60) scale(1.0383,1)" font-size="29.64" font-weight="bold" font-family="'Liberation Sans', Arial, sans-serif" stroke="#000" stroke-width="0.3" stroke-linejoin="round">pLV</text>
<text transform="translate(329.07,698.00) scale(1.0250,1)" font-size="31.21" font-weight="bold" font-family="'Liberation Sans', Arial, sans-serif" stroke="#000" stroke-width="0.3" stroke-linejoin="round">ITGB4E</text>
<line x1="180" y1="708" x2="308" y2="708" stroke="#000" stroke-width="2.6"/>
<line x1="318" y1="708" x2="454" y2="708" stroke="#000" stroke-width="2.6"/>
<rect x="160.9" y="714.90" width="304.90" height="45.5" rx="2.5" fill="#a4a4a4" stroke="#000" stroke-width="3.0"/>
<g clip-path="url(#clip20)">
<rect x="179" y="734.75" width="24.599999999999994" height="4.5" rx="2.25" fill="#5e5e5e" opacity="1" filter="url(#b11)"/>
<rect x="224" y="736.35" width="30" height="4.5" rx="2.25" fill="#666" opacity="1" filter="url(#b11)"/>
<rect x="269" y="737.75" width="28" height="4.5" rx="2.25" fill="#6e6e6e" opacity="1" filter="url(#b12)"/>
<rect x="319" y="738.5" width="30" height="5" rx="2.5" fill="#444" opacity="1" filter="url(#b10)"/>
<rect x="367" y="738.5" width="30" height="5" rx="2.5" fill="#474747" opacity="1" filter="url(#b10)"/>
<rect x="416" y="738.5" width="29" height="5" rx="2.5" fill="#444" opacity="1" filter="url(#b10)"/>
</g>
<line x1="150.4" y1="737.65" x2="160" y2="737.65" stroke="#000" stroke-width="2.8"/>
<text transform="translate(93.49,748.65) scale(0.7508,1)" font-size="31.59" font-weight="bold" font-family="'Liberation Sans', Arial, sans-serif" stroke="#000" stroke-width="0.4" stroke-linejoin="round">Slug</text>
<rect x="160.9" y="769.40" width="304.90" height="45.5" rx="2.5" fill="#999999" stroke="#000" stroke-width="3.0"/>
<g clip-path="url(#clip21)">
<rect x="191" y="791.75" width="23" height="4.5" rx="2.25" fill="#7a7a7a" opacity="1" filter="url(#b12)"/>
<rect x="231" y="793.55" width="23" height="4.5" rx="2.25" fill="#5e5e5e" opacity="1" filter="url(#b11)"/>
<rect x="279" y="794.25" width="23" height="4.5" rx="2.25" fill="#777" opacity="1" filter="url(#b12)"/>
<rect x="322" y="793.05" width="28" height="5.5" rx="2.75" fill="#333" opacity="1" filter="url(#b10)"/>
<rect x="370" y="790.75" width="28" height="5.5" rx="2.75" fill="#383838" opacity="1" filter="url(#b10)"/>
<rect x="418.4" y="788.5" width="26.600000000000023" height="5" rx="2.5" fill="#333" opacity="1" filter="url(#b10)"/>
</g>
<line x1="150.4" y1="792.15" x2="160" y2="792.15" stroke="#000" stroke-width="2.8"/>
<text transform="translate(88.49,803.15) scale(0.7494,1)" font-size="31.59" font-weight="bold" font-family="'Liberation Sans', Arial, sans-serif" stroke="#000" stroke-width="0.4" stroke-linejoin="round">Snail</text>
<rect x="160.9" y="824.10" width="304.90" height="45.5" rx="2.5" fill="#8e8e8e" stroke="#000" stroke-width="3.0"/>
<g clip-path="url(#clip22)">
<rect x="183" y="843.0" width="26" height="3" rx="1.5" fill="#666" opacity="1" filter="url(#b9)"/>
<rect x="227" y="841.75" width="30" height="3.5" rx="1.75" fill="#5a5a5a" opacity="1" filter="url(#b9)"/>
<rect x="275" y="841.25" width="28" height="3.5" rx="1.75" fill="#5e5e5e" opacity="1" filter="url(#b9)"/>
<rect x="322" y="840.25" width="28" height="3.5" rx="1.75" fill="#666" opacity="1" filter="url(#b9)"/>
<rect x="367" y="839.45" width="31" height="4.5" rx="2.25" fill="#262626" opacity="1" filter="url(#b9)"/>
<rect x="413" y="838.75" width="31" height="4.5" rx="2.25" fill="#262626" opacity="1" filter="url(#b9)"/>
</g>
<line x1="150.4" y1="846.85" x2="160" y2="846.85" stroke="#000" stroke-width="2.8"/>
<text transform="translate(88.49,857.85) scale(0.7510,1)" font-size="31.59" font-weight="bold" font-family="'Liberation Sans', Arial, sans-serif" stroke="#000" stroke-width="0.4" stroke-linejoin="round">Zeb1</text>
<rect x="160.9" y="878.70" width="304.90" height="45.5" rx="2.5" fill="#8b8b8b" stroke="#000" stroke-width="3.0"/>
<g clip-path="url(#clip23)">
<rect x="172" y="895.0" width="24" height="3" rx="1.5" fill="#666" opacity="1" filter="url(#b9)"/>
<rect x="217" y="894.75" width="29" height="3.5" rx="1.75" fill="#555" opacity="1" filter="url(#b9)"/>
<rect x="265" y="895.5" width="30" height="3" rx="1.5" fill="#7a7a7a" opacity="1" filter="url(#b9)"/>
<rect x="312" y="896.75" width="32" height="3.5" rx="1.75" fill="#555" opacity="1" filter="url(#b9)"/>
<rect x="362" y="897.5" width="31" height="4" rx="2.0" fill="#444" opacity="1" filter="url(#b9)"/>
<rect x="411" y="898.0" width="31" height="4" rx="2.0" fill="#444" opacity="1" filter="url(#b9)"/>
</g>
<line x1="150.4" y1="901.45" x2="160" y2="901.45" stroke="#000" stroke-width="2.8"/>
<text transform="translate(88.48,912.45) scale(0.7560,1)" font-size="31.59" font-weight="bold" font-family="'Liberation Sans', Arial, sans-serif" stroke="#000" stroke-width="0.4" stroke-linejoin="round">Zeb2</text>
<rect x="160.9" y="932.30" width="304.90" height="45.5" rx="2.5" fill="#acacac" stroke="#000" stroke-width="3.0"/>
<g clip-path="url(#clip24)">
<rect x="169" y="952.0" width="37" height="7" rx="3.5" fill="#222" opacity="1.0" filter="url(#b11)"/>
<rect x="218" y="952.0" width="39" height="7" rx="3.5" fill="#222" opacity="1.0" filter="url(#b11)"/>
<rect x="268" y="952.0" width="39" height="7" rx="3.5" fill="#222" opacity="1.0" filter="url(#b11)"/>
<rect x="319" y="952.0" width="36" height="7" rx="3.5" fill="#222" opacity="1.0" filter="url(#b11)"/>
<rect x="369" y="952.0" width="35" height="7" rx="3.5" fill="#222" opacity="1.0" filter="url(#b11)"/>
<rect x="418" y="952.0" width="36" height="7" rx="3.5" fill="#222" opacity="1.0" filter="url(#b11)"/>
</g>
<line x1="150.4" y1="955.05" x2="160" y2="955.05" stroke="#000" stroke-width="2.8"/>
<text transform="translate(63.46,966.05) scale(0.8770,1)" font-size="30.50" font-weight="normal" font-family="'Liberation Serif', 'Times New Roman', serif">β</text>
<line x1="78.8" y1="958.55" x2="88.4" y2="958.55" stroke="#000" stroke-width="1.8"/>
<text transform="translate(90.09,966.05) scale(0.7066,1)" font-size="33.28" font-weight="bold" font-family="'Liberation Sans', Arial, sans-serif" stroke="#000" stroke-width="0.4" stroke-linejoin="round">actin</text>
<text transform="translate(511.80,874.35) rotate(-90) scale(0.9556,1)" font-size="32.68" font-weight="bold" font-family="'Liberation Sans', Arial, sans-serif" stroke="#000" stroke-width="0.3" stroke-linejoin="round">Western</text>
<text transform="translate(543.00,916.30) rotate(-90) scale(0.9951,1)" font-size="31.67" font-weight="bold" font-family="'Liberation Sans', Arial, sans-serif" stroke="#000" stroke-width="0.3" stroke-linejoin="round">Density (A.U.)</text>
<line x1="673.0" y1="888" x2="673.0" y2="895" stroke="#000" stroke-width="2.6"/>
<line x1="665.0" y1="888" x2="681.0" y2="888" stroke="#000" stroke-width="2.6"/>
<rect x="632" y="896.2" width="82" height="49.30" fill="#d1d1d3" stroke="#000" stroke-width="2.6"/>
<rect x="634.6" y="898.8" width="76.8" height="44.10" fill="none" stroke="#f4f4f4" stroke-width="1.6" opacity="0.75"/>
<line x1="755.75" y1="891" x2="755.75" y2="895" stroke="#000" stroke-width="2.6"/>
<line x1="747.75" y1="891" x2="763.75" y2="891" stroke="#000" stroke-width="2.6"/>
<rect x="714" y="896.2" width="83.5" height="49.30" fill="#858588" stroke="#000" stroke-width="2.6"/>
<rect x="716.6" y="898.8" width="78.3" height="44.10" fill="none" stroke="#a2a2a4" stroke-width="1.6" opacity="0.75"/>
<line x1="838.25" y1="875.6" x2="838.25" y2="895" stroke="#000" stroke-width="2.6"/>
<line x1="830.25" y1="875.6" x2="846.25" y2="875.6" stroke="#000" stroke-width="2.6"/>
<rect x="797.5" y="896.2" width="81.5" height="49.30" fill="#404042" stroke="#000" stroke-width="2.6"/>
<line x1="921.0" y1="853.6" x2="921.0" y2="895" stroke="#000" stroke-width="2.6"/>
<line x1="913.0" y1="853.6" x2="929.0" y2="853.6" stroke="#000" stroke-width="2.6"/>
<rect x="879" y="896.2" width="84" height="49.30" fill="#000000" stroke="#000" stroke-width="2.6"/>
<line x1="1029.5" y1="861.6" x2="1029.5" y2="869" stroke="#000" stroke-width="2.6"/>
<line x1="1021.5" y1="861.6" x2="1037.5" y2="861.6" stroke="#000" stroke-width="2.6"/>
<rect x="988" y="870.2" width="83" height="75.30" fill="#d1d1d3" stroke="#000" stroke-width="2.6"/>
<rect x="990.6" y="872.8" width="77.8" height="70.10" fill="none" stroke="#f4f4f4" stroke-width="1.6" opacity="0.75"/>
<text transform="translate(1021.44,860.58) scale(0.9390,1)" font-size="44.00" font-weight="bold" font-family="'Liberation Sans', Arial, sans-serif" stroke="#000" stroke-width="0.3" stroke-linejoin="round">*</text>
<line x1="1112.25" y1="796" x2="1112.25" y2="801.6" stroke="#000" stroke-width="2.6"/>
<line x1="1104.25" y1="796" x2="1120.25" y2="796" stroke="#000" stroke-width="2.6"/>
<rect x="1071" y="802.8000000000001" width="82.5" height="142.70" fill="#858588" stroke="#000" stroke-width="2.6"/>
<rect x="1073.6" y="805.4" width="77.3" height="137.50" fill="none" stroke="#a2a2a4" stroke-width="1.6" opacity="0.75"/>
<text transform="translate(1104.19,793.58) scale(0.9390,1)" font-size="44.00" font-weight="bold" font-family="'Liberation Sans', Arial, sans-serif" stroke="#000" stroke-width="0.3" stroke-linejoin="round">*</text>
<line x1="1194.75" y1="756.4" x2="1194.75" y2="811.6" stroke="#000" stroke-width="2.6"/>
<line x1="1186.75" y1="756.4" x2="1202.75" y2="756.4" stroke="#000" stroke-width="2.6"/>
<rect x="1153.5" y="812.8000000000001" width="82.5" height="132.70" fill="#404042" stroke="#000" stroke-width="2.6"/>
<text transform="translate(1186.69,755.58) scale(0.9390,1)" font-size="44.00" font-weight="bold" font-family="'Liberation Sans', Arial, sans-serif" stroke="#000" stroke-width="0.3" stroke-linejoin="round">*</text>
<line x1="1278.0" y1="717" x2="1278.0" y2="800.6" stroke="#000" stroke-width="2.6"/>
<line x1="1270.0" y1="717" x2="1286.0" y2="717" stroke="#000" stroke-width="2.6"/>
<rect x="1236" y="801.8000000000001" width="84" height="143.70" fill="#000000" stroke="#000" stroke-width="2.6"/>
<text transform="translate(1269.94,718.58) scale(0.9390,1)" font-size="44.00" font-weight="bold" font-family="'Liberation Sans', Arial, sans-serif" stroke="#000" stroke-width="0.3" stroke-linejoin="round">*</text>
<rect x="606.5" y="676" width="739.0" height="269.50" fill="none" stroke="#000" stroke-width="2.6"/>
<line x1="974.5" y1="938.5" x2="974.5" y2="945.5" stroke="#000" stroke-width="2.4"/>
<line x1="596" y1="945.50" x2="606.5" y2="945.50" stroke="#000" stroke-width="2.6"/>
<text transform="translate(579.79,947.50) scale(0.7652,1)" font-size="29.71" font-weight="bold" font-family="'Liberation Sans', Arial, sans-serif" stroke="#000" stroke-width="0.4" stroke-linejoin="round">0</text>
<line x1="596" y1="895.30" x2="606.5" y2="895.30" stroke="#000" stroke-width="2.6"/>
<text transform="translate(579.19,903.80) scale(0.7816,1)" font-size="29.71" font-weight="bold" font-family="'Liberation Sans', Arial, sans-serif" stroke="#000" stroke-width="0.4" stroke-linejoin="round">1</text>
<line x1="596" y1="845.10" x2="606.5" y2="845.10" stroke="#000" stroke-width="2.6"/>
<text transform="translate(579.91,853.60) scale(0.7572,1)" font-size="29.71" font-weight="bold" font-family="'Liberation Sans', Arial, sans-serif" stroke="#000" stroke-width="0.4" stroke-linejoin="round">2</text>
<line x1="596" y1="794.90" x2="606.5" y2="794.90" stroke="#000" stroke-width="2.6"/>
<text transform="translate(580.15,803.40) scale(0.7343,1)" font-size="29.71" font-weight="bold" font-family="'Liberation Sans', Arial, sans-serif" stroke="#000" stroke-width="0.4" stroke-linejoin="round">3</text>
<line x1="596" y1="744.70" x2="606.5" y2="744.70" stroke="#000" stroke-width="2.6"/>
<text transform="translate(580.40,753.20) scale(0.6794,1)" font-size="29.71" font-weight="bold" font-family="'Liberation Sans', Arial, sans-serif" stroke="#000" stroke-width="0.4" stroke-linejoin="round">4</text>
<line x1="596" y1="694.50" x2="606.5" y2="694.50" stroke="#000" stroke-width="2.6"/>
<text transform="translate(580.05,703.00) scale(0.7269,1)" font-size="29.71" font-weight="bold" font-family="'Liberation Sans', Arial, sans-serif" stroke="#000" stroke-width="0.4" stroke-linejoin="round">5</text>
<rect x="616.0999999999999" y="686.5999999999999" width="28.6" height="27.8" rx="1.5" fill="#d1d1d3" stroke="#000" stroke-width="2.6"/>
<rect x="618.4" y="688.9" width="24" height="23.2" fill="none" stroke="#f4f4f4" stroke-width="1.1" opacity="0.8"/>
<text transform="translate(650.83,710.40) scale(0.9197,1)" font-size="26.16" font-weight="bold" font-family="'Liberation Sans', Arial, sans-serif" stroke="#000" stroke-width="0.3" stroke-linejoin="round">Slug</text>
<rect x="616.0999999999999" y="722.6999999999999" width="28.6" height="27.8" rx="1.5" fill="#858588" stroke="#000" stroke-width="2.6"/>
<rect x="618.4" y="725.0" width="24" height="23.2" fill="none" stroke="#a2a2a4" stroke-width="1.1" opacity="0.8"/>
<text transform="translate(650.83,746.70) scale(0.9185,1)" font-size="26.16" font-weight="bold" font-family="'Liberation Sans', Arial, sans-serif" stroke="#000" stroke-width="0.3" stroke-linejoin="round">Snail</text>
<rect x="616.0999999999999" y="760.1999999999999" width="28.6" height="27.8" rx="1.5" fill="#404042" stroke="#000" stroke-width="2.6"/>
<text transform="translate(650.87,784.70) scale(0.8668,1)" font-size="26.16" font-weight="bold" font-family="'Liberation Sans', Arial, sans-serif" stroke="#000" stroke-width="0.3" stroke-linejoin="round">Zeb1</text>
<rect x="616.0999999999999" y="796.5" width="28.6" height="27.8" rx="1.5" fill="#000000" stroke="#000" stroke-width="2.6"/>
<text transform="translate(650.83,821.00) scale(0.9131,1)" font-size="26.16" font-weight="bold" font-family="'Liberation Sans', Arial, sans-serif" stroke="#000" stroke-width="0.3" stroke-linejoin="round">Zeb2</text>
<text transform="translate(770.30,977.70) scale(0.9425,1)" font-size="30.22" font-weight="bold" font-family="'Liberation Sans', Arial, sans-serif" stroke="#000" stroke-width="0.3" stroke-linejoin="round">pLV</text>
<text transform="translate(1101.29,977.70) scale(0.9728,1)" font-size="29.49" font-weight="bold" font-family="'Liberation Sans', Arial, sans-serif" stroke="#000" stroke-width="0.3" stroke-linejoin="round">ITGB4E</text>
</svg></body></html>
